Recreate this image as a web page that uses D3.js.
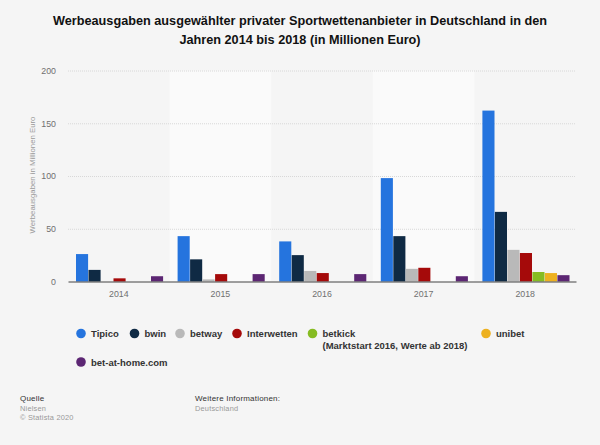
<!DOCTYPE html>
<html>
<head>
<meta charset="utf-8">
<script src="https://cdn.jsdelivr.net/npm/d3@7"></script>
<style>
  html, body { margin: 0; padding: 0; background: #f5f5f5; }
  text { font-family: "Liberation Sans", Arial, sans-serif; }
  .y-axis .domain, .x-axis .tick line { display: none; }
  .y-axis .tick line { stroke: #d8d8d8; stroke-dasharray: 1 1; }
  .y-axis .tick text, .x-axis .tick text { fill: #707070; font-size: 8.8px; }
</style>
</head>
<body>
<script>
const years = ['2014', '2015', '2016', '2017', '2018'];
const providers = ['Tipico', 'bwin', 'betway', 'Interwetten', 'betkick', 'unibet', 'bet-at-home.com'];
const colors = ['#2574de', '#0f2a44', '#b9b9b9', '#a50a0a', '#86bc22', '#edb120', '#5c2673'];

// null = kein Wert in dem Jahr
const tipico = [26, 43, 38, 98, 162];
const bwin = [11, 21, 25, 43, 66];
const betway = [null, 2, 10, 12, 30];
const interwetten = [3, 7, 8, 13, 27];
const betkick = [null, null, null, null, 9];
const unibet = [null, null, null, null, 8];
const betAtHome = [5, 7, 7, 5, 6];
const seriesValues = [tipico, bwin, betway, interwetten, betkick, unibet, betAtHome];

const yTicks = [0, 50, 100, 150, 200];
const titleLines = [
  'Werbeausgaben ausgewählter privater Sportwettenanbieter in Deutschland in den',
  'Jahren 2014 bis 2018 (in Millionen Euro)'
];

const svg = d3.select('body').append('svg')
  .attr('width', 600)
  .attr('height', 445)
  .style('display', 'block');

// title
svg.selectAll('.title').data(titleLines).enter().append('text')
  .attr('class', 'title')
  .attr('x', 300)
  .attr('y', (d, i) => 24.5 + i * 19.5)
  .attr('text-anchor', 'middle')
  .attr('font-size', 12.7)
  .attr('font-weight', 'bold')
  .attr('fill', '#111')
  .text(d => d);

const x0 = d3.scaleBand().domain(years).range([68, 576]);
const x1 = d3.scaleBand().domain(providers).range([8, 95.5]);
const y = d3.scaleLinear().domain([0, 200]).range([281.5, 70.5]);

// alternating year bands
svg.selectAll('.band').data(years.filter((d, i) => i % 2 === 1)).enter().append('rect')
  .attr('class', 'band')
  .attr('x', d => x0(d))
  .attr('y', y(200))
  .attr('width', x0.bandwidth())
  .attr('height', y(0) - y(200))
  .attr('fill', '#fafafa');

svg.append('g')
  .attr('class', 'y-axis')
  .attr('transform', 'translate(68,0)')
  .call(d3.axisLeft(y).tickValues(yTicks).tickSize(-508).tickPadding(12))
  .call(g => g.selectAll('.tick').filter(d => d === 0).select('line').remove());

// bars
providers.forEach((name, s) => {
  const rows = years.map((year, i) => ({ year, value: seriesValues[s][i] })).filter(d => d.value !== null);
  svg.selectAll('.bar-' + s).data(rows).enter().append('rect')
    .attr('class', 'bar-' + s)
    .attr('x', d => x0(d.year) + x1(name))
    .attr('y', d => y(d.value))
    .attr('width', x1.bandwidth() - 0.4)
    .attr('height', d => y(0) - y(d.value))
    .attr('fill', colors[s]);
});

svg.append('g')
  .attr('class', 'x-axis')
  .attr('transform', 'translate(0,281.5)')
  .call(d3.axisBottom(x0).tickSize(0).tickPadding(9))
  .call(g => g.select('.domain').attr('stroke', '#444').attr('stroke-width', 1));

svg.append('text')
  .attr('transform', 'translate(34.5,175) rotate(-90)')
  .attr('text-anchor', 'middle')
  .attr('font-size', 7.8)
  .attr('fill', '#999')
  .text('Werbeausgaben in Millionen Euro');

// legend
const legendX = [81, 134.5, 180, 237, 312.5, 486, 81];
const legendY = [333.5, 333.5, 333.5, 333.5, 333.5, 333.5, 362];
const legend = svg.selectAll('.legend').data(providers).enter().append('g')
  .attr('class', 'legend')
  .attr('transform', (d, i) => `translate(${legendX[i]},${legendY[i]})`);
legend.append('circle')
  .attr('r', 4.8)
  .attr('fill', (d, i) => colors[i]);
legend.append('text')
  .attr('x', 10)
  .attr('y', 3.8)
  .attr('font-size', 9.5)
  .attr('font-weight', 'bold')
  .attr('fill', '#333')
  .text(d => d);
svg.append('text')
  .attr('x', 322.5)
  .attr('y', 349)
  .attr('font-size', 9.5)
  .attr('font-weight', 'bold')
  .attr('fill', '#333')
  .text('(Marktstart 2016, Werte ab 2018)');

// footer
const footer = [
  { x: 20, y: 401, text: 'Quelle', fill: '#333', size: 8 },
  { x: 20, y: 411, text: 'Nielsen', fill: '#999', size: 7.4 },
  { x: 20, y: 420, text: '© Statista 2020', fill: '#999', size: 7.4 },
  { x: 195, y: 401, text: 'Weitere Informationen:', fill: '#333', size: 8 },
  { x: 195, y: 411, text: 'Deutschland', fill: '#999', size: 7.4 }
];
svg.selectAll('.footer').data(footer).enter().append('text')
  .attr('class', 'footer')
  .attr('x', d => d.x)
  .attr('y', d => d.y)
  .attr('font-size', d => d.size)
  .attr('letter-spacing', 0.2)
  .attr('fill', d => d.fill)
  .text(d => d.text);
</script>
</body>
</html>
